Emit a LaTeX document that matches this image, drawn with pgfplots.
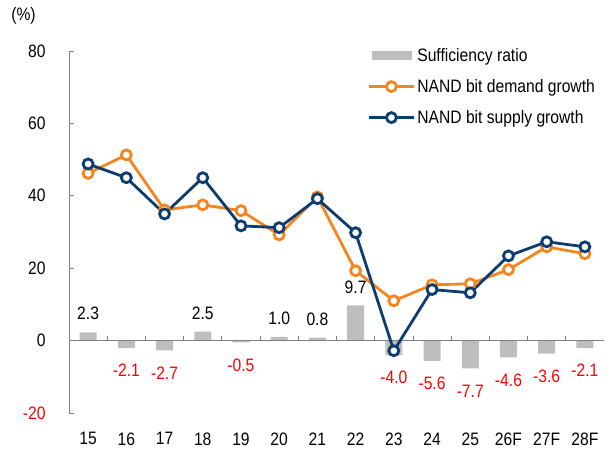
\documentclass[border=0pt]{standalone}
\usepackage{fontspec}
\setmainfont[FakeStretch=0.87]{Liberation Sans}
\usepackage{pgfplots}
\pgfplotsset{compat=1.18}
\definecolor{barg}{RGB}{190,190,192}
\definecolor{dorange}{RGB}{245,134,31}
\definecolor{snavy}{RGB}{12,60,112}
\definecolor{axg}{RGB}{128,128,128}
\pgfplotsset{
  linelegend/.style={legend image code/.code={\draw[mark repeat=2,mark phase=2,##1] plot coordinates {(0bp,0bp) (22.5bp,0bp) (45bp,0bp)};}},
  barlegend/.style={legend image code/.code={\fill[barg] (3bp,-4.5bp) rectangle (43bp,4.5bp);}},
}
\begin{document}
\begin{tikzpicture}[font=\fontsize{18bp}{21bp}\selectfont]
\useasboundingbox (-69bp,-37bp) rectangle (545bp,413bp);
\begin{axis}[
  at={(0,0)}, anchor=south west,
  scale only axis, width=535bp, height=362bp,
  xmin=-0.5, xmax=13.5, ymin=-20, ymax=80,
  axis x line*=bottom, axis y line*=left,
  x axis line style={draw=none},
  y axis line style={axg, line width=0.8bp},
  xtick={0,...,13},
  xticklabels={15,16,17,18,19,20,21,22,23,24,25,26F,27F,28F},
  major x tick style={draw=none},
  ytick={-20,0,20,40,60,80},
  yticklabels={\textcolor{red}{-20},0,20,40,60,80},
  y tick style={axg, line width=0.8bp},
  tick align=inside, major tick length=5bp,
  xticklabel style={yshift=-16bp},
  yticklabel style={xshift=-20bp},
  /pgf/number format/assume math mode=true,
  clip=false,
  legend style={draw=none, fill=none, at={(0.552,1.019)}, anchor=north west,
    row sep=12.5bp, font=\fontsize{18bp}{21bp}\selectfont,
    /tikz/every even column/.append style={column sep=0bp}},
  legend cell align=left,
]
\addplot[ybar, bar width=17bp, fill=barg, draw=none, barlegend]
  coordinates {(0,2.3) (1,-2.1) (2,-2.7) (3,2.5) (4,-0.5) (5,1.0) (6,0.8) (7,9.7) (8,-4.0) (9,-5.6) (10,-7.7) (11,-4.6) (12,-3.6) (13,-2.1)};
\addlegendentry{Sufficiency ratio}
% zero line and its ticks
\addplot[axg, line width=0.8bp, forget plot] coordinates {(-0.5,0) (13.5,0)};
\addplot[ycomb, axg, line width=0.8bp, forget plot, mark=none]
  coordinates {(0.5,1.38) (1.5,1.38) (2.5,1.38) (3.5,1.38) (4.5,1.38) (5.5,1.38) (6.5,1.38) (7.5,1.38) (8.5,1.38) (9.5,1.38) (10.5,1.38) (11.5,1.38) (12.5,1.38)};
% value labels
\addplot[draw=none, forget plot, point meta=explicit symbolic, nodes near coords,
  nodes near coords style={anchor=south, inner sep=0pt, yshift=12bp, text=black}]
  coordinates {(0,2.3)[2.3] (3,2.5)[2.5] (5,1.0)[1.0] (6,0.8)[0.8] (7,9.7)[9.7]};
\addplot[draw=none, forget plot, point meta=explicit symbolic, nodes near coords,
  nodes near coords style={anchor=north, inner sep=0pt, yshift=-16bp, text=red}]
  coordinates {(1,-2.1)[-2.1] (2,-2.7)[-2.7] (4,-0.5)[-0.5] (8,-4.0)[-4.0] (9,-5.6)[-5.6] (10,-7.7)[-7.7] (11,-4.6)[-4.6] (12,-3.6)[-3.6] (13,-2.1)[-2.1]};
\addplot[dorange, line width=2.8bp, mark=*, mark size=5bp,
  mark options={fill=white, draw=dorange, line width=2.8bp}, linelegend]
  coordinates {(0,46.2) (1,51.3) (2,36.1) (3,37.5) (4,35.9) (5,29.2) (6,39.7) (7,19.3) (8,11.0) (9,15.4) (10,15.7) (11,19.6) (12,25.9) (13,24.0)};
\addlegendentry{NAND bit demand growth}
\addplot[snavy, line width=2.8bp, mark=*, mark size=5bp,
  mark options={fill=white, draw=snavy, line width=2.8bp}, linelegend]
  coordinates {(0,48.8) (1,45.0) (2,35.0) (3,45.0) (4,31.7) (5,31.2) (6,39.2) (7,29.8) (8,-2.8) (9,14.1) (10,13.2) (11,23.4) (12,27.3) (13,25.9)};
\addlegendentry{NAND bit supply growth}
\end{axis}
\node at (-45.5bp,397bp) {(\%)};
\end{tikzpicture}
\end{document}
